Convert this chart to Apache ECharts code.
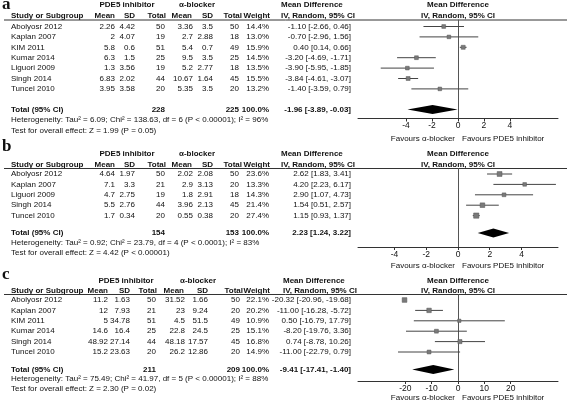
<!DOCTYPE html>
<html><head><meta charset="utf-8">
<script src="https://cdn.jsdelivr.net/npm/echarts@6/dist/echarts.min.js"></script>
<style>html,body{margin:0;padding:0;background:#fff}#c{width:567px;height:402px}</style>
</head><body><div id="c"></div>
<script>
// ---------- DATA ----------
// Panel a
const aStudies = ['Abolyosr 2012','Kaplan 2007','KIM 2011','Kumar 2014','Liguori 2009','Singh 2014','Tuncel 2010'];
const aPdeMean = [2.26, 2, 5.8, 6.3, 1.3, 6.83, 3.95];
const aPdeSD = [4.42, 4.07, 0.6, 1.5, 3.56, 2.02, 3.58];
const aPdeN = [50, 19, 51, 25, 19, 44, 20];
const aAbMean = [3.36, 2.7, 5.4, 9.5, 5.2, 10.67, 5.35];
const aAbSD = [3.5, 2.88, 0.7, 3.5, 2.77, 1.64, 3.5];
const aAbN = [50, 18, 49, 25, 18, 45, 20];
const aWeight = [14.4, 13.0, 15.9, 14.5, 13.5, 15.5, 13.2];
const aMD = [-1.10, -0.70, 0.40, -3.20, -3.90, -3.84, -1.40];
const aLo = [-2.66, -2.96, 0.14, -4.69, -5.95, -4.61, -3.59];
const aHi = [0.46, 1.56, 0.66, -1.71, -1.85, -3.07, 0.79];
const aTotal = [-1.96, -3.89, -0.03];
const aTotalN = [228, 225];
const aHet = 'Heterogeneity: Tau² = 6.09; Chi² = 138.63, df = 6 (P < 0.00001); I² = 96%';
const aTest = 'Test for overall effect: Z = 1.99 (P = 0.05)';
const aTicks = [-4, -2, 0, 2, 4];
const aRange = [-7.7, 7.7];

// Panel b
const bStudies = ['Abolyosr 2012','Kaplan 2007','Liguori 2009','Singh 2014','Tuncel 2010'];
const bPdeMean = [4.64, 7.1, 4.7, 5.5, 1.7];
const bPdeSD = [1.97, 3.3, 2.75, 2.76, 0.34];
const bPdeN = [50, 21, 19, 44, 20];
const bAbMean = [2.02, 2.9, 1.8, 3.96, 0.55];
const bAbSD = [2.08, 3.13, 2.91, 2.13, 0.38];
const bAbN = [50, 20, 18, 45, 20];
const bWeight = [23.6, 13.3, 14.3, 21.4, 27.4];
const bMD = [2.62, 4.20, 2.90, 1.54, 1.15];
const bLo = [1.83, 2.23, 1.07, 0.51, 0.93];
const bHi = [3.41, 6.17, 4.73, 2.57, 1.37];
const bTotal = [2.23, 1.24, 3.22];
const bTotalN = [154, 153];
const bHet = 'Heterogeneity: Tau² = 0.92; Chi² = 23.79, df = 4 (P < 0.0001); I² = 83%';
const bTest = 'Test for overall effect: Z = 4.42 (P < 0.00001)';
const bTicks = [-4, -2, 0, 2, 4];
const bRange = [-6.3, 6.3];

// Panel c
const cStudies = ['Abolyosr 2012','Kaplan 2007','KIM 2011','Kumar 2014','Singh 2014','Tuncel 2010'];
const cPdeMean = [11.2, 12, 5, 14.6, 48.92, 15.2];
const cPdeSD = [1.63, 7.93, 34.78, 16.4, 27.14, 23.63];
const cPdeN = [50, 21, 51, 25, 44, 20];
const cAbMean = [31.52, 23, 4.5, 22.8, 48.18, 26.2];
const cAbSD = [1.66, 9.24, 51.5, 24.5, 17.57, 12.86];
const cAbN = [50, 20, 49, 25, 45, 20];
const cWeight = [22.1, 20.2, 10.9, 15.1, 16.8, 14.9];
const cMD = [-20.32, -11.00, 0.50, -8.20, 0.74, -11.00];
const cLo = [-20.96, -16.28, -16.79, -19.76, -8.78, -22.79];
const cHi = [-19.68, -5.72, 17.79, 3.36, 10.26, 0.79];
const cTotal = [-9.41, -17.41, -1.40];
const cTotalN = [211, 209];
const cHet = 'Heterogeneity: Tau² = 75.49; Chi² = 41.97, df = 5 (P < 0.00001); I² = 88%';
const cTest = 'Test for overall effect: Z = 2.30 (P = 0.02)';
const cTicks = [-20, -10, 0, 10, 20];
const cRange = [-38, 38];

const favLeft = 'Favours α-blocker';
const favRight = 'Favours PDE5 inhibitor';

// ---------- LAYOUT ----------
const FONT = '"Liberation Sans", Arial, Helvetica, sans-serif';
const FS = 8;
const TXT = '#111';
const colsAB = {study:11, pm:115, ps:135, pn:165, am:193, as:213, an:239, w:269, ciL:281, ci:351, h1a:127, h1b:197};
const colsC = {study:11, pm:108, ps:130, pn:156, am:185, as:208, an:240, w:269, ciL:283, ci:351, h1a:126, h1b:198};
const layouts = [
  {label:'a', labelY:5, h1:5, h2:15.5, line:20, row0:26.5, step:10.4, total:109.5, het:120, test:130.5, axis:118.5, fav:139, cols:colsAB},
  {label:'b', labelY:147, h1:153.5, h2:164.5, line:168.5, row0:174, step:10.4, total:233, het:242.5, test:252.5, axis:247, fav:265.5, cols:colsAB},
  {label:'c', labelY:275, h1:280.5, h2:290.5, line:294.5, row0:300, step:10.4, total:369.5, het:378.5, test:388.5, axis:381, fav:398, cols:colsC}
];
const panels = [
  {studies:aStudies, pm:aPdeMean, ps:aPdeSD, pn:aPdeN, am:aAbMean, as:aAbSD, an:aAbN, w:aWeight, md:aMD, lo:aLo, hi:aHi, tot:aTotal, totN:aTotalN, het:aHet, test:aTest, ticks:aTicks, range:aRange},
  {studies:bStudies, pm:bPdeMean, ps:bPdeSD, pn:bPdeN, am:bAbMean, as:bAbSD, an:bAbN, w:bWeight, md:bMD, lo:bLo, hi:bHi, tot:bTotal, totN:bTotalN, het:bHet, test:bTest, ticks:bTicks, range:bRange},
  {studies:cStudies, pm:cPdeMean, ps:cPdeSD, pn:cPdeN, am:cAbMean, as:cAbSD, an:cAbN, w:cWeight, md:cMD, lo:cLo, hi:cHi, tot:cTotal, totN:cTotalN, het:cHet, test:cTest, ticks:cTicks, range:cRange}
];

const GL = 358, GW = 200, ZX = GL + GW / 2;

function txt(x, y, s, align, bold, size, family) {
  return {type:'text', silent:true, style:{x:x, y:y, text:s, fill:TXT,
    font:(bold ? 'bold ' : '') + (size || FS) + 'px ' + (family || FONT),
    align:align || 'left', textAlign:align || 'left', verticalAlign:'middle', textVerticalAlign:'middle'}};
}
function fmt(v){ return v.toFixed(2); }
function ciStr(m,l,h){ return fmt(m) + ' [' + fmt(l) + ', ' + fmt(h) + ']'; }

const graphics = [];
const grids = [], xAxes = [], yAxes = [], series = [];

layouts.forEach(function(L, k){
  const P = panels[k];
  const C = L.cols;
  graphics.push(txt(2, L.labelY, L.label, 'left', true, 17, '"Liberation Serif", "Times New Roman", serif'));
  // header row 1
  graphics.push(txt(C.h1a, L.h1, 'PDE5 inhibitor', 'center', true));
  graphics.push(txt(C.h1b, L.h1, 'α-blocker', 'center', true));
  graphics.push(txt(C.ciL, L.h1, 'Mean Difference', 'left', true));
  graphics.push(txt(ZX, L.h1, 'Mean Difference', 'center', true));
  // header row 2
  graphics.push(txt(C.study, L.h2, 'Study or Subgroup', 'left', true));
  graphics.push(txt(C.pm, L.h2, 'Mean', 'right', true));
  graphics.push(txt(C.ps, L.h2, 'SD', 'right', true));
  graphics.push(txt(C.pn + 1, L.h2, 'Total', 'right', true));
  graphics.push(txt(C.am - 1, L.h2, 'Mean', 'right', true));
  graphics.push(txt(C.as, L.h2, 'SD', 'right', true));
  graphics.push(txt(C.an + 3, L.h2, 'Total', 'right', true));
  graphics.push(txt(C.w + 1, L.h2, 'Weight', 'right', true));
  graphics.push(txt(C.ciL, L.h2, 'IV, Random, 95% CI', 'left', true));
  graphics.push(txt(ZX, L.h2, 'IV, Random, 95% CI', 'center', true));
  graphics.push({type:'line', silent:true, shape:{x1:4, y1:L.line, x2:567, y2:L.line}, style:{stroke:'#333', lineWidth:1}});
  // rows
  P.studies.forEach(function(s, i){
    const y = L.row0 + i * L.step;
    graphics.push(txt(C.study, y, s, 'left'));
    graphics.push(txt(C.pm, y, String(P.pm[i]), 'right'));
    graphics.push(txt(C.ps, y, String(P.ps[i]), 'right'));
    graphics.push(txt(C.pn, y, String(P.pn[i]), 'right'));
    graphics.push(txt(C.am, y, String(P.am[i]), 'right'));
    graphics.push(txt(C.as, y, String(P.as[i]), 'right'));
    graphics.push(txt(C.an, y, String(P.an[i]), 'right'));
    graphics.push(txt(C.w, y, P.w[i].toFixed(1) + '%', 'right'));
    graphics.push(txt(C.ci, y, ciStr(P.md[i], P.lo[i], P.hi[i]), 'right'));
  });
  // total row
  graphics.push(txt(C.study, L.total, 'Total (95% CI)', 'left', true));
  graphics.push(txt(C.pn, L.total, String(P.totN[0]), 'right', true));
  graphics.push(txt(C.an, L.total, String(P.totN[1]), 'right', true));
  const wSum = P.w.reduce(function(a,b){return a+b;},0);
  graphics.push(txt(C.w, L.total, (Math.round(wSum)).toFixed(1) + '%', 'right', true));
  graphics.push(txt(C.ci, L.total, ciStr(P.tot[0], P.tot[1], P.tot[2]), 'right', true));
  graphics.push(txt(C.study, L.het, P.het, 'left'));
  graphics.push(txt(C.study, L.test, P.test, 'left'));
  graphics.push(txt(ZX - 3, L.fav, favLeft, 'right'));
  graphics.push(txt(ZX + 4, L.fav, favRight, 'left'));

  grids.push({left:GL, width:GW, top:L.line, height:L.axis - L.line});
  xAxes.push({type:'value', gridIndex:k, min:P.range[0], max:P.range[1],
    axisLine:{show:true, onZero:false, lineStyle:{color:'#333', width:1}},
    axisTick:{show:true, inside:false, length:3, customValues:P.ticks, lineStyle:{color:'#333'}},
    axisLabel:{show:true, customValues:P.ticks, margin:3, fontSize:8.5, fontFamily:FONT, color:TXT},
    splitLine:{show:false}});
  yAxes.push({type:'value', gridIndex:k, inverse:true,
    min:-(L.row0 - L.line) / L.step, max:(L.axis - L.row0) / L.step,
    axisLine:{show:true, onZero:true, lineStyle:{color:'#555', width:1}},
    axisTick:{show:false}, axisLabel:{show:false}, splitLine:{show:false}});

  const rows = P.studies.map(function(s, i){ return [P.md[i], P.lo[i], P.hi[i], i, P.w[i]]; });
  series.push({type:'custom', xAxisIndex:k, yAxisIndex:k, clip:false, silent:true,
    encode:{x:[0,1,2], y:3}, data:rows,
    renderItem:function(params, api){
      const r = api.value(3), w = api.value(4);
      const pL = api.coord([api.value(1), r]), pR = api.coord([api.value(2), r]), pM = api.coord([api.value(0), r]);
      const s = Math.sqrt(w) * 1.0;
      return {type:'group', children:[
        {type:'line', shape:{x1:pL[0], y1:pM[1], x2:pR[0], y2:pM[1]}, style:{stroke:'#444', lineWidth:1}},
        {type:'rect', shape:{x:pM[0]-s/2, y:pM[1]-s/2, width:s, height:s}, style:{fill:'#7a7a7a', stroke:'#555', lineWidth:0.5}}
      ]};
    }});
  const tIdx = (L.total - L.row0) / L.step;
  series.push({type:'custom', xAxisIndex:k, yAxisIndex:k, clip:false, silent:true,
    encode:{x:[0,1,2], y:3}, data:[[P.tot[0], P.tot[1], P.tot[2], tIdx]],
    renderItem:function(params, api){
      const r = api.value(3);
      const pL = api.coord([api.value(1), r]), pR = api.coord([api.value(2), r]), pM = api.coord([api.value(0), r]);
      return {type:'polygon', shape:{points:[[pL[0], pM[1]], [pM[0], pM[1]-4.5], [pR[0], pM[1]], [pM[0], pM[1]+4.5]]},
        style:{fill:'#000'}};
    }});
});

const chart = echarts.init(document.getElementById('c'), null, {renderer:'canvas'});
chart.setOption({
  animation:false,
  backgroundColor:'#fff',
  grid:grids, xAxis:xAxes, yAxis:yAxes, series:series,
  graphic:{elements:graphics}
});
</script></body></html>
